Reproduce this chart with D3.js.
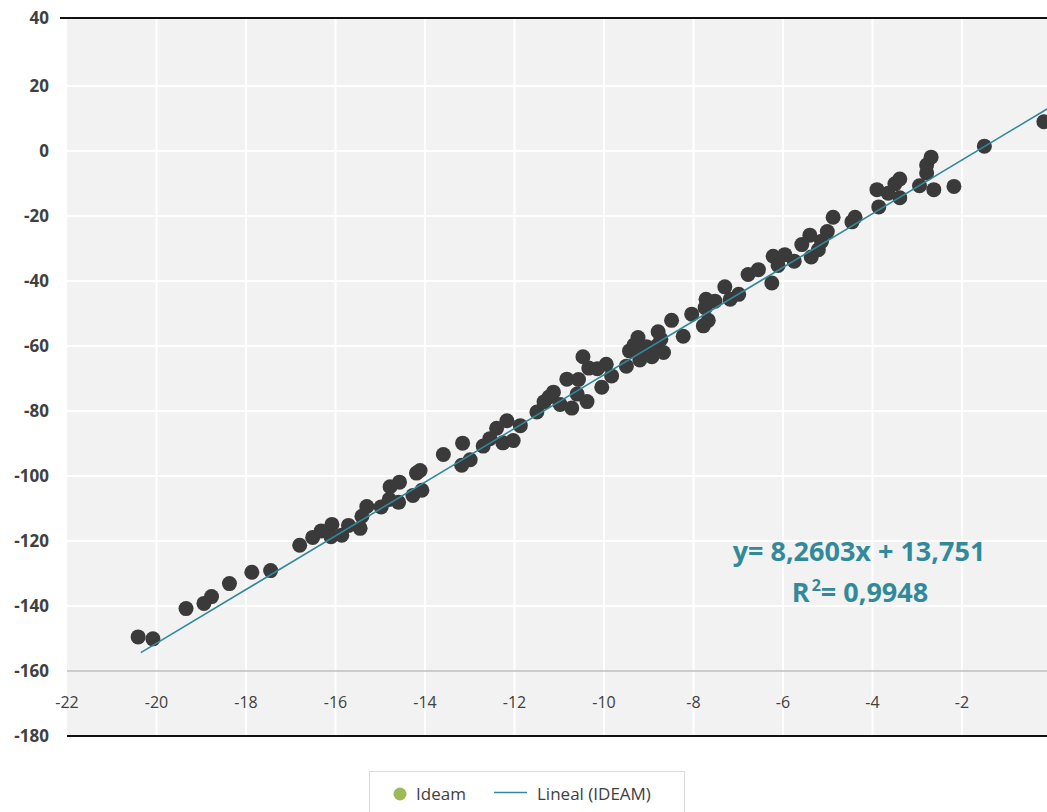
<!DOCTYPE html>
<html>
<head>
<meta charset="utf-8">
<script src="https://cdn.jsdelivr.net/npm/d3@7"></script>
<style>
  body { margin: 0; background: #fff; }
  svg { display: block; font-family: "Open Sans", "Noto Sans", sans-serif; }
</style>
</head>
<body>
<div id="chart"></div>
<script>
// Ideam points (x, y)
const xs = [-20.41, -20.08, -19.34, -18.94, -18.77, -18.37, -17.87, -17.45, -16.80, -16.51,
  -16.32, -16.08, -16.10, -15.86, -15.71, -15.45, -15.41, -15.30, -14.98, -14.78,
  -14.57, -14.59, -14.80, -14.27, -14.07, -14.19, -14.11, -13.59, -13.16, -13.18,
  -12.99, -12.70, -12.55, -12.40, -12.17, -12.26, -12.03, -11.87, -11.50, -11.34,
  -11.23, -11.13, -10.98, -10.83, -10.72, -10.57, -10.60, -10.38, -10.47, -10.34,
  -10.15, -9.95, -10.05, -9.83, -9.50, -9.43, -9.33, -9.24, -9.20, -9.13,
  -9.05, -8.93, -8.82, -8.79, -8.73, -8.67, -8.49, -8.23, -8.04, -7.78,
  -7.67, -7.72, -7.74, -7.52, -7.30, -7.18, -6.99, -6.78, -6.55, -6.25,
  -6.22, -6.11, -5.96, -5.75, -5.58, -5.40, -5.37, -5.21, -5.14, -5.01,
  -4.88, -4.46, -4.39, -3.86, -3.90, -3.65, -3.50, -3.39, -3.39, -2.95,
  -2.79, -2.79, -2.69, -2.63, -2.18, -1.50, -0.17]
const ys = [-149.5, -150.1, -140.8, -139.2, -137.1, -133.1, -129.6, -129.1, -121.3, -118.9,
  -116.9, -114.9, -118.7, -118.2, -115.2, -116.1, -112.4, -109.4, -109.5, -103.3,
  -101.9, -108.1, -107.2, -106.0, -104.4, -99.1, -98.3, -93.4, -89.9, -96.7,
  -95.0, -90.8, -88.5, -85.3, -83.0, -89.8, -89.1, -84.5, -80.3, -77.2,
  -75.7, -74.2, -78.0, -70.2, -79.1, -70.3, -74.8, -77.1, -63.3, -66.8,
  -67.0, -65.6, -72.7, -69.2, -66.2, -61.5, -59.7, -57.4, -64.3, -62.2,
  -60.2, -63.3, -60.0, -55.6, -57.9, -62.0, -52.1, -57.0, -50.2, -53.8,
  -52.1, -45.6, -48.2, -46.2, -41.8, -45.6, -44.1, -38.0, -36.5, -40.6,
  -32.4, -35.2, -31.9, -33.9, -28.8, -25.9, -32.6, -30.4, -27.8, -24.8,
  -20.4, -21.8, -20.4, -17.2, -11.9, -13.0, -10.1, -8.6, -14.4, -10.7,
  -6.8, -4.3, -1.9, -11.9, -10.9, 1.5, 9.0]

// linear trend (IDEAM)
const slope = 8.2603
const intercept = 13.751
const trendX = [-20.35, 0.3]

const xTicks = [-22, -20, -18, -16, -14, -12, -10, -8, -6, -4, -2, 0]
const yTicks = [40, 20, 0, -20, -40, -60, -80, -100, -120, -140, -160, -180]

const width = 1047, height = 812
const teal = '#31899a'
const textColor = '#404040'

const svg = d3.select('#chart').append('svg')
  .attr('width', width)
  .attr('height', height)

const x = d3.scaleLinear().domain([-22, 0]).range([67, 1051.5])
const y = d3.scaleLinear().domain([-180, 40]).range([736, 21])

// plot background
svg.append('rect')
  .attr('x', x(-22)).attr('y', y(40) - 3)
  .attr('width', width - x(-22)).attr('height', y(-180) - y(40) + 3)
  .attr('fill', '#f2f2f2')

// gridlines
svg.append('g').selectAll('line')
  .data(yTicks.filter(d => d < 40 && d > -160))
  .join('line')
  .attr('x1', x(-22)).attr('x2', width)
  .attr('y1', d => y(d)).attr('y2', d => y(d))
  .attr('stroke', '#fff').attr('stroke-width', 2)

svg.append('g').selectAll('line')
  .data(xTicks.filter(d => d > -22))
  .join('line')
  .attr('x1', d => x(d)).attr('x2', d => x(d))
  .attr('y1', y(40) - 2).attr('y2', y(-180))
  .attr('stroke', '#fff').attr('stroke-width', 2)

// x axis crosses at -160
svg.append('line')
  .attr('x1', x(-22)).attr('x2', width)
  .attr('y1', y(-160)).attr('y2', y(-160))
  .attr('stroke', '#bfbfbf').attr('stroke-width', 1.5)

// top and bottom black rules
svg.append('line')
  .attr('x1', x(-22) - 7).attr('x2', width)
  .attr('y1', y(40) - 3).attr('y2', y(40) - 3)
  .attr('stroke', '#111').attr('stroke-width', 2)
svg.append('line')
  .attr('x1', x(-22)).attr('x2', width)
  .attr('y1', y(-180)).attr('y2', y(-180))
  .attr('stroke', '#111').attr('stroke-width', 2)

// y labels
svg.append('g').selectAll('text')
  .data(yTicks)
  .join('text')
  .attr('x', 49)
  .attr('y', d => d === 40 ? y(d) - 3 : y(d))
  .attr('dy', '0.35em')
  .attr('text-anchor', 'end')
  .attr('font-size', 17)
  .attr('font-weight', 'bold')
  .attr('fill', textColor)
  .text(d => d)

// x labels
svg.append('g').selectAll('text')
  .data(xTicks)
  .join('text')
  .attr('x', d => x(d))
  .attr('y', y(-160) + 31)
  .attr('dy', '0.35em')
  .attr('text-anchor', 'middle')
  .attr('font-size', 16)
  .attr('fill', textColor)
  .text(d => d)

// points
svg.append('g').selectAll('circle')
  .data(xs.map((d, i) => [d, ys[i]]))
  .join('circle')
  .attr('cx', d => x(d[0]))
  .attr('cy', d => y(d[1]))
  .attr('r', 7.5)
  .attr('fill', '#3a3a3a')

// trend line
svg.append('line')
  .attr('x1', x(trendX[0])).attr('y1', y(slope * trendX[0] + intercept))
  .attr('x2', x(trendX[1])).attr('y2', y(slope * trendX[1] + intercept))
  .attr('stroke', teal).attr('stroke-width', 1.6)

// equation
const eq = svg.append('g')
  .attr('fill', teal)
  .attr('font-weight', 'bold')
  .attr('font-size', 27)
eq.append('text')
  .attr('x', 859).attr('y', 561)
  .attr('text-anchor', 'middle')
  .text('y= 8,2603x + 13,751')
const r2 = eq.append('text')
  .attr('x', 860).attr('y', 602)
  .attr('text-anchor', 'middle')
r2.append('tspan').text('R')
r2.append('tspan').attr('dx', 2).attr('dy', -11).attr('font-size', 16).text('2')
r2.append('tspan').attr('dy', 11).text('= 0,9948')

// legend
const leg = svg.append('g')
leg.append('rect')
  .attr('x', 369.5).attr('y', 771.5)
  .attr('width', 315).attr('height', 50)
  .attr('fill', '#fff').attr('stroke', '#d9d9d9')
leg.append('circle')
  .attr('cx', 400).attr('cy', 794).attr('r', 6.5)
  .attr('fill', '#9bbb59')
leg.append('text')
  .attr('x', 416).attr('y', 800)
  .attr('font-size', 17).attr('fill', textColor)
  .text('Ideam')
leg.append('line')
  .attr('x1', 494).attr('x2', 527)
  .attr('y1', 792.5).attr('y2', 792.5)
  .attr('stroke', teal).attr('stroke-width', 1.5)
leg.append('text')
  .attr('x', 537).attr('y', 800)
  .attr('font-size', 17).attr('fill', textColor)
  .text('Lineal (IDEAM)')
</script>
</body>
</html>
